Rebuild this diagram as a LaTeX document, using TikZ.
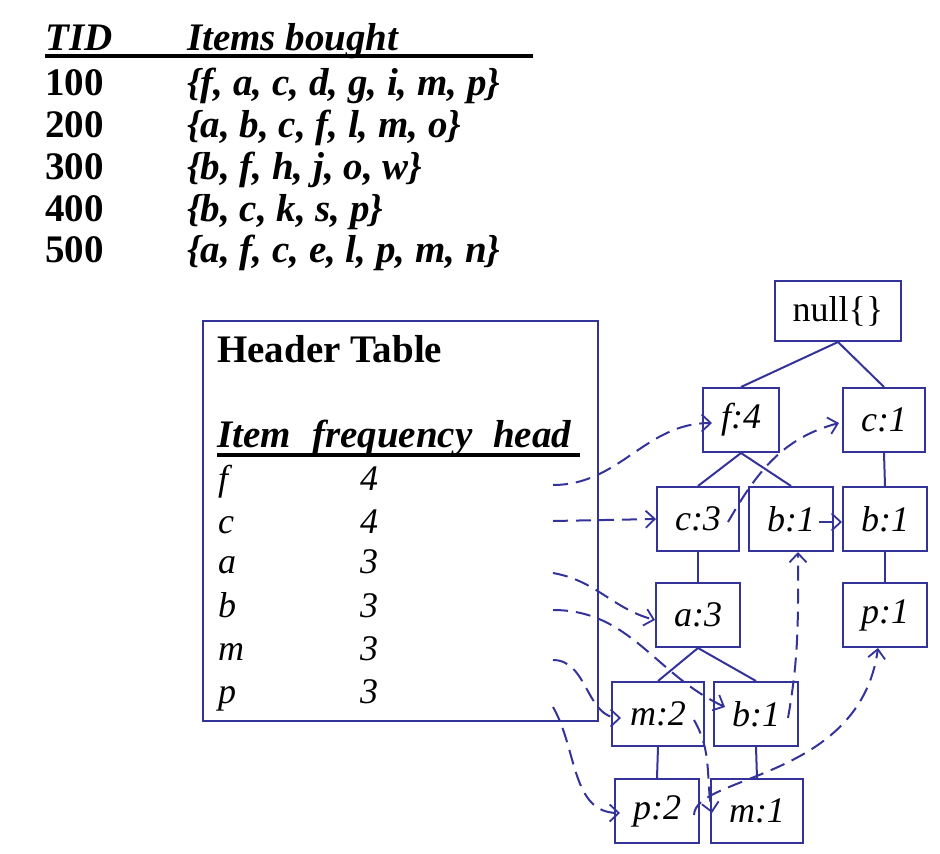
\documentclass[tikz,border=0pt]{standalone}
\usepackage{fontspec}
\setmainfont{Liberation Serif}
\usetikzlibrary{arrows.meta}
\definecolor{treeblue}{RGB}{51,51,153}
\newcommand\tabfont{\fontsize{39}{44}\selectfont}
\newcommand\rowfont{\fontsize{36}{42}\selectfont}
\tikzset{ttext/.style = {anchor=base west, inner sep=0pt, font=\tabfont},
         rtext/.style = {anchor=base west, inner sep=0pt, font=\rowfont\itshape},
         tnode/.style = {draw=treeblue, line width=2pt, fill=white, rectangle, minimum height=64pt, inner ysep=0pt, inner xsep=18pt, font=\rowfont\itshape},
         tedge/.style = {draw=treeblue, line width=2pt},
         link/.style  = {draw=treeblue, line width=2pt, dash pattern=on 15pt off 8pt, -{Straight Barb[length=9pt,width=17pt,line width=1.8pt]}}}

\begin{document}
\begin{tikzpicture}[x=1pt,y=-1pt]
        \useasboundingbox (0,0) rectangle (940,854);
        % transactions
        \node[ttext](tid)at(45,50){\bfseries\itshape TID};
        \node[ttext](items)at(187,50){\bfseries\itshape Items bought};
        \draw[line width=4pt](45,56)--(533,56);
        \node[ttext](t100)at(45,95){\bfseries 100};
        \node[ttext](s100)at(187,95){\bfseries\itshape \{f, a, c, d, g, i, m, p\}};
        \node[ttext](t200)at(45,137){\bfseries 200};
        \node[ttext](s200)at(187,137){\bfseries\itshape \{a, b, c, f, l, m, o\}};
        \node[ttext](t300)at(45,179){\bfseries 300};
        \node[ttext](s300)at(187,179){\bfseries\itshape \{b, f, h, j, o, w\}};
        \node[ttext](t400)at(45,221){\bfseries 400};
        \node[ttext](s400)at(187,221){\bfseries\itshape \{b, c, k, s, p\}};
        \node[ttext](t500)at(45,262){\bfseries 500};
        \node[ttext](s500)at(187,262){\bfseries\itshape \{a, f, c, e, l, p, m, n\}};
        % header table
        \node[draw=treeblue,line width=2pt,minimum width=395pt,minimum height=400pt](ht)at(400.5,521){};
        \node[ttext](title)at(217,362){\bfseries Header Table};
        \node[ttext](hitem)at(217,447){\bfseries\itshape Item};
        \node[ttext](hfreq)at(312,447){\bfseries\itshape frequency};
        \node[ttext](hhead)at(493,447){\bfseries\itshape head};
        \draw[line width=4pt](217,455)--(580,455);
        \node[rtext](if)at(218,490){f};   \node[rtext](nf)at(360,490){4};
        \node[rtext](ic)at(218,533){c};   \node[rtext](nc)at(360,533){4};
        \node[rtext](ia)at(218,573){a};   \node[rtext](na)at(360,573){3};
        \node[rtext](ib)at(218,617){b};   \node[rtext](nb)at(360,617){3};
        \node[rtext](im)at(218,660){m};   \node[rtext](nm)at(360,660){3};
        \node[rtext](ip)at(218,703){p};   \node[rtext](np)at(360,703){3};
        \coordinate(hf)at(553,485);
        \coordinate(hc)at(553,521);
        \coordinate(ha)at(553,573);
        \coordinate(hb)at(553,610);
        \coordinate(hm)at(553,660);
        \coordinate(hp)at(553,707);
        % fp-tree
        \node[tnode,font=\rowfont,minimum height=60pt](nul)at(838,311){null\{\}};
        \node[tnode](f4)at(741,420){f:4};
        \node[tnode](c1)at(884,420){c:1};
        \node[tnode](c3)at(698,519){c:3};
        \node[tnode](b1m)at(791,519){b:1};
        \node[tnode](b1r)at(885,519){b:1};
        \node[tnode](a3)at(698,615){a:3};
        \node[tnode](p1)at(885,615){p:1};
        \node[tnode](m2)at(658,714){m:2};
        \node[tnode](b1b)at(756,714){b:1};
        \node[tnode](p2)at(657,811){p:2};
        \node[tnode](m1)at(757,811){m:1};
        \draw[tedge](nul.south)--(f4.north);
        \draw[tedge](nul.south)--(c1.north);
        \draw[tedge](f4.south)--(c3.north);
        \draw[tedge](f4.south)--(b1m.north);
        \draw[tedge](c1.south)--(b1r.north);
        \draw[tedge](c3.south)--(a3.north);
        \draw[tedge](b1r.south)--(p1.north);
        \draw[tedge](a3.south)--(m2.north);
        \draw[tedge](a3.south)--(b1b.north);
        \draw[tedge](m2.south)--(p2.north);
        \draw[tedge](b1b.south)--(m1.north);
        % node-links
        \draw[link](hf) to[out=0,in=180] ([xshift=10pt,yshift=-3pt]f4.west);
        \draw[link](hc)--(c3.west);
        \draw[link](ha) to[out=-10,in=165] ([yshift=-5pt]a3.west);
        \draw[link](hb) to[out=0,in=155] ([xshift=12pt,yshift=7pt]b1b.west);
        \draw[link](hm) to[out=0,in=180] ([xshift=10pt,yshift=-4pt]m2.west);
        \draw[link](hp) to[out=-60,in=180] ([xshift=6pt,yshift=-2pt]p2.west);
        \draw[link]([xshift=-12pt,yshift=-3pt]c3.east) to[out=60,in=195] ([xshift=-3pt,yshift=-3pt]c1.west);
        \draw[link]([xshift=-15pt,yshift=-3pt]b1m.east)--([yshift=-3pt]b1r.west);
        \draw[link]([xshift=-11pt,yshift=-4pt]b1b.east) to[out=80,in=-90] ([xshift=7pt]b1m.south);
        \draw[link]([xshift=-11pt,yshift=-6pt]m2.east) to[out=-60,in=100] ([xshift=2pt,yshift=-2pt]m1.west);
        \draw[link]([xshift=-6pt,yshift=-4pt]p2.east) .. controls (695,775) and (860,780) .. ([xshift=-7pt]p1.south);
\end{tikzpicture}
\end{document}
